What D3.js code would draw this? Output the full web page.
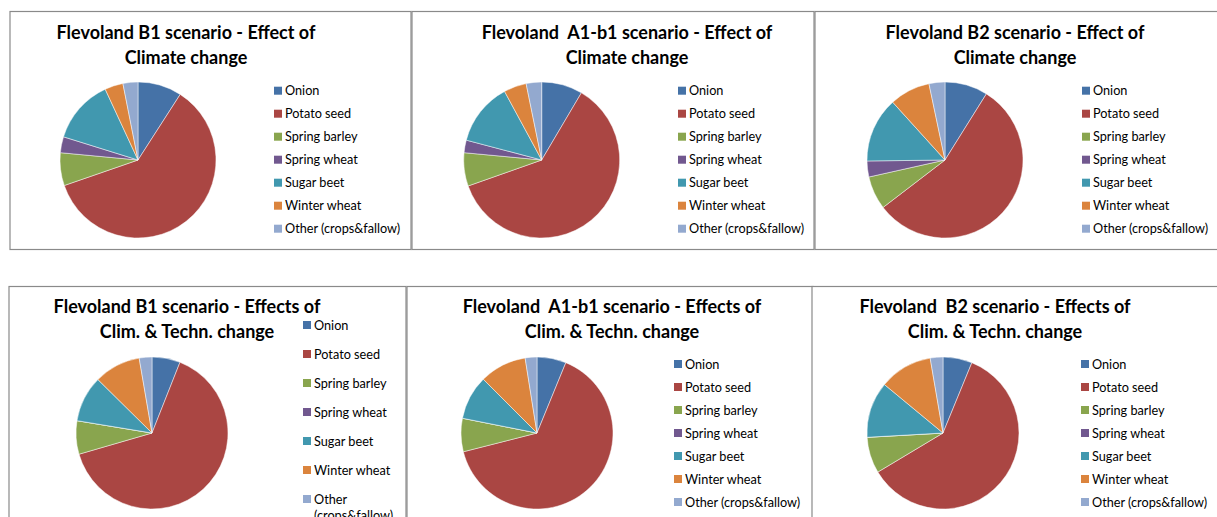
<!DOCTYPE html>
<html>
<head>
<meta charset="utf-8">
<script src="https://cdn.jsdelivr.net/npm/d3@7"></script>
<style>
  html, body { margin: 0; padding: 0; background: #fff; }
  svg { display: block; }
  .title { font-family: Lato, "Open Sans", sans-serif; font-weight: bold; font-size: 18px; fill: #000; white-space: pre; }
  .legend { font-family: Lato, "Open Sans", sans-serif; font-size: 12.7px; fill: #000; }
</style>
</head>
<body>
<svg id="chart" width="1217" height="517"></svg>
<script>
// Crop categories shared by all six pies
const categories = ["Onion", "Potato seed", "Spring barley", "Spring wheat", "Sugar beet", "Winter wheat", "Other (crops&fallow)"];
const sliceColors = ["#4572A7", "#AA4643", "#89A54E", "#71588F", "#4198AF", "#DB843D", "#93A9CF"];

// Land-use shares (%) per scenario
const b1Climate   = [9.1, 60.6, 6.8, 3.3, 13.3, 3.8, 3.1];
const a1b1Climate = [8.5, 61.1, 6.9, 2.6, 13.0, 4.7, 3.2];
const b2Climate   = [8.9, 55.7, 6.9, 3.3, 13.5, 8.4, 3.3];
const b1ClimTech   = [6.0, 64.5, 7.1, 0.0, 9.8, 9.9, 2.7];
const a1b1ClimTech = [6.2, 64.9, 7.1, 0.0, 9.4, 10.0, 2.5];
const b2ClimTech   = [6.2, 60.2, 7.7, 0.0, 11.9, 11.3, 2.7];

const titleLines = [
  ["Flevoland B1 scenario - Effect of", "Climate change"],
  ["Flevoland  A1-b1 scenario - Effect of", "Climate change"],
  ["Flevoland B2 scenario - Effect of", "Climate change"],
  ["Flevoland B1 scenario - Effects of", "Clim. & Techn. change"],
  ["Flevoland  A1-b1 scenario - Effects of", "Clim. & Techn. change"],
  ["Flevoland  B2 scenario - Effects of", "Clim. & Techn. change"]
];

const seriesList = [b1Climate, a1b1Climate, b2Climate, b1ClimTech, a1b1ClimTech, b2ClimTech];

// Frame, pie and legend placement for each panel
const layout = [
  { box: [10, 11.5, 411, 249.5], cx: 138, cy: 160, r: 78, tx: 186, ty: 39, lx: 274, ly: 90.7, step: 23, wrap: false },
  { box: [412, 11.5, 814, 249.5], cx: 541.7, cy: 160, r: 78, tx: 627, ty: 39, lx: 678, ly: 90.7, step: 23, wrap: false },
  { box: [815, 11.5, 1240, 249.5], cx: 945, cy: 160, r: 78, tx: 1015, ty: 39, lx: 1082, ly: 90.7, step: 23, wrap: false },
  { box: [9, 286.5, 406, 540], cx: 152, cy: 433, r: 76, tx: 187, ty: 313.3, lx: 303, ly: 325, step: 29, wrap: true },
  { box: [407, 286.5, 813, 540], cx: 537, cy: 433, r: 76, tx: 612, ty: 313.3, lx: 674, ly: 364, step: 23, wrap: false },
  { box: [812, 286.5, 1240, 540], cx: 943, cy: 433, r: 76, tx: 995, ty: 313.3, lx: 1081, ly: 364, step: 23, wrap: false }
];

const svg = d3.select("#chart");
const color = d3.scaleOrdinal().domain(categories).range(sliceColors);
const pie = d3.pie().sort(null).value(d => d.value);

layout.forEach((L, i) => {
  const g = svg.append("g");
  const [x0, y0, x1, y1] = L.box;

  // panel frame
  g.append("rect")
    .attr("x", x0).attr("y", y0)
    .attr("width", x1 - x0).attr("height", y1 - y0)
    .attr("fill", "#fff")
    .attr("stroke", "#8a8a8a").attr("stroke-width", 1.2);

  // two-line title
  const t = g.append("text").attr("class", "title").attr("text-anchor", "middle")
    .attr("xml:space", "preserve");
  titleLines[i].forEach((line, k) => {
    t.append("tspan").attr("x", L.tx).attr("y", L.ty + k * 24.5).text(line);
  });

  // pie slices
  const data = categories.map((c, k) => ({ cat: c, value: seriesList[i][k] }));
  const arc = d3.arc().innerRadius(0).outerRadius(L.r);
  g.append("g")
    .attr("transform", `translate(${L.cx},${L.cy})`)
    .selectAll("path")
    .data(pie(data))
    .join("path")
    .attr("d", arc)
    .attr("fill", d => color(d.data.cat))
    .attr("stroke", "#fff")
    .attr("stroke-width", 0.6)
    .attr("stroke-opacity", 0.8);

  // legend
  const items = g.append("g").selectAll("g")
    .data(categories)
    .join("g")
    .attr("transform", (d, k) => `translate(${L.lx},${L.ly + k * L.step})`);
  items.append("rect")
    .attr("x", 0).attr("y", -4).attr("width", 8).attr("height", 8)
    .attr("fill", d => color(d));
  items.each(function (d) {
    const txt = d3.select(this).append("text").attr("class", "legend")
      .attr("x", 11).attr("y", 4.5);
    if (L.wrap && d.includes(" (")) {
      const parts = d.split(" ");
      txt.append("tspan").attr("x", 11).text(parts[0]);
      txt.append("tspan").attr("x", 11).attr("dy", 16).text(parts.slice(1).join(" "));
    } else {
      txt.text(d);
    }
  });
});
</script>
</body>
</html>
